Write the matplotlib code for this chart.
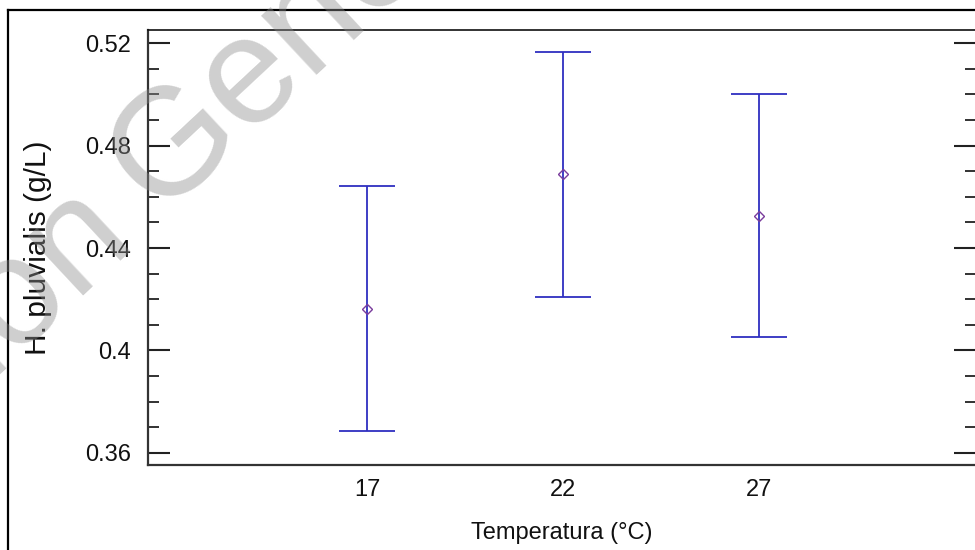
import matplotlib
matplotlib.use("Agg")
import matplotlib.pyplot as plt
from matplotlib.ticker import MultipleLocator
from matplotlib.lines import Line2D

# Data
temperatures = [17, 22, 27]
means = [0.4162, 0.4689, 0.4525]
upper = [0.4642, 0.5165, 0.5003]
lower = [0.3686, 0.4209, 0.4053]
ytick_labels = ["0.36", "0.4", "0.44", "0.48", "0.52"]
ytick_values = [0.36, 0.40, 0.44, 0.48, 0.52]

plt.rcParams['font.family'] = ['Liberation Sans', 'DejaVu Sans']

W, H = 975, 550
fig = plt.figure(figsize=(W / 100, H / 100), dpi=100)

def fx(px):
    return px / W

def fy(py):
    return 1 - py / H

ax = fig.add_axes([fx(148), fy(465), fx(976) - fx(148), fy(30) - fy(465)])

err_lo = [m - l for m, l in zip(means, lower)]
err_hi = [u - m for m, u in zip(means, upper)]
ax.errorbar(temperatures, means, yerr=[err_lo, err_hi], fmt='none',
            ecolor='#2f2fc0', elinewidth=1.3, capsize=20, capthick=1.3)
ax.plot(temperatures, means, linestyle='none', marker='D', markersize=5,
        markerfacecolor='none', markeredgecolor='#7a3c9c', markeredgewidth=1.0)

ax.set_xlim(11.41, 32.55)
ax.set_ylim(0.3553, 0.5251)
ax.set_xticks(temperatures)
ax.set_xticklabels([str(t) for t in temperatures])
ax.set_yticks(ytick_values)
ax.set_yticklabels(ytick_labels)
ax.yaxis.set_minor_locator(MultipleLocator(0.01))

ax.tick_params(axis='x', length=0, pad=10, labelsize=17, colors='#111111')
ax.tick_params(axis='y', which='major', direction='in', length=16, width=1.5,
               left=True, right=True, pad=12, labelsize=17, color='#222222', labelcolor='#111111')
ax.tick_params(axis='y', which='minor', direction='in', length=8, width=1.3,
               left=True, right=True, color='#222222')

for side in ['left', 'bottom']:
    ax.spines[side].set_linewidth(1.6)
    ax.spines[side].set_color('#333333')
ax.spines['top'].set_linewidth(1.2)
ax.spines['top'].set_color('#111111')
ax.spines['right'].set_visible(False)

ax.set_xlabel("Temperatura (°C)", fontsize=17, color='#111111', labelpad=15)
ax.set_ylabel("H. pluvialis (g/L)", fontsize=21.5, color='#111111', labelpad=24)

# outer frame
fig.add_artist(Line2D([fx(8), fx(8)], [fy(10), 0], transform=fig.transFigure,
                      color='black', linewidth=1.6))
fig.add_artist(Line2D([fx(8), 1], [fy(10), fy(10)], transform=fig.transFigure,
                      color='black', linewidth=1.6))

# watermark
wm_kw = dict(fontsize=110, color='#8c8c8c', alpha=0.42, rotation=43,
             rotation_mode='anchor', va='baseline', zorder=10, transform=fig.transFigure)
fig.text(fx(138), fy(244), "Versión", ha='right', **wm_kw)
fig.text(fx(158), fy(215), "Generada", ha='left', **wm_kw)

fig.savefig("out.png", dpi=100)
